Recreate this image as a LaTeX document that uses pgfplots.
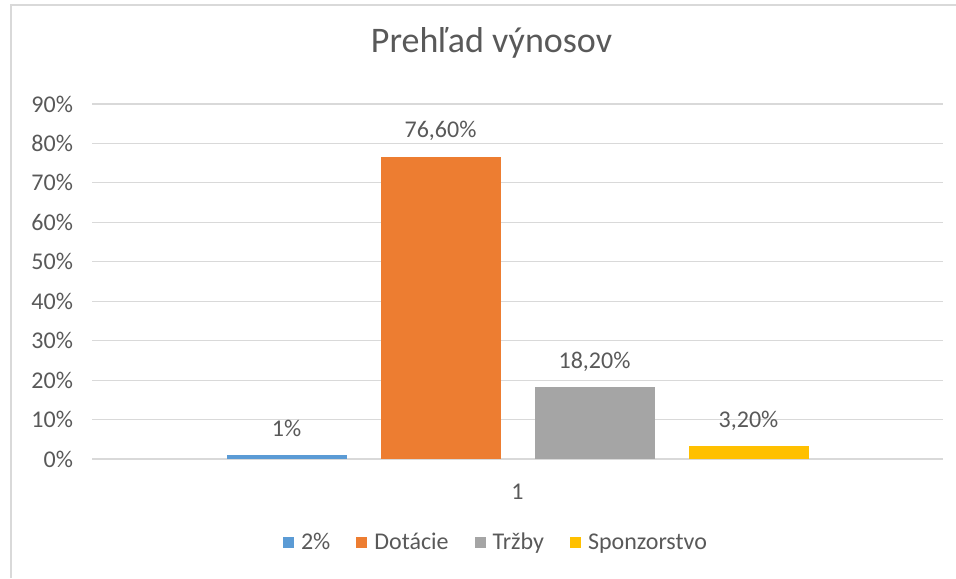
\documentclass[border=0pt]{standalone}
\usepackage{pgfplots}
\pgfplotsset{compat=1.18}
\usepackage{fontspec}
\setmainfont{Carlito}
\definecolor{cblue}{HTML}{5B9BD5}
\definecolor{corange}{HTML}{ED7D31}
\definecolor{cgray}{HTML}{A5A5A5}
\definecolor{cyellow}{HTML}{FFC000}
\definecolor{gridc}{HTML}{D9D9D9}
\definecolor{txt}{HTML}{595959}
\pgfplotsset{sqlegend/.style={legend image code/.code={\fill[##1,draw=none] (0pt,-2.75pt) rectangle (5.5pt,2.75pt); \path (7pt,0pt);}}}
\begin{document}
\begin{tikzpicture}
\path[use as bounding box] (0,0) rectangle (478pt,289pt);
\draw[gridc, line width=1pt] (5.5pt,0) -- (5.5pt,286.5pt) -- (478pt,286.5pt);
\node[anchor=base, text=txt, font=\fontsize{18}{21}\selectfont] at (245.75pt,262.5pt) {Prehľad výnosov};
\begin{axis}[
  at={(46pt,59.5pt)}, anchor=south west,
  scale only axis, width=425.5pt, height=177.5pt,
  ybar=17pt, bar width=60pt,
  xmin=0, xmax=2, ymin=0, ymax=90,
  xtick={1}, xticklabels={1},
  ytick={0,10,...,90},
  yticklabel={\pgfmathprintnumber{\tick}\%},
  /pgf/number format/assume math mode=true,
  axis line style={draw=none},
  major tick length=0pt,
  ymajorgrids, grid style={gridc, line width=0.6pt},
  tick label style={text=txt, font=\fontsize{12}{14}\selectfont},
  yticklabel style={xshift=-6pt},
  xticklabel style={yshift=-9pt},
  nodes near coords,
  point meta=explicit symbolic,
  nodes near coords style={anchor=base, yshift=9.5pt, text=txt, font=\fontsize{12}{14}\selectfont},
  legend columns=4,
  legend style={at={(0.4759,-0.2366)}, anchor=center, draw=none, fill=none,
    font=\fontsize{12}{14}\selectfont, text=txt,
    /tikz/every even column/.append style={column sep=11pt},
    cells={anchor=west}},
]
\addplot[fill=cblue, draw=none, sqlegend] coordinates {(1,1) [1\%]};
\addplot[fill=corange, draw=none, sqlegend] coordinates {(1,76.6) [76,60\%]};
\addplot[fill=cgray, draw=none, sqlegend] coordinates {(1,18.2) [18,20\%]};
\addplot[fill=cyellow, draw=none, sqlegend] coordinates {(1,3.2) [3,20\%]};
\legend{2\%, Dotácie, Tržby, Sponzorstvo}
\end{axis}
\end{tikzpicture}
\end{document}
